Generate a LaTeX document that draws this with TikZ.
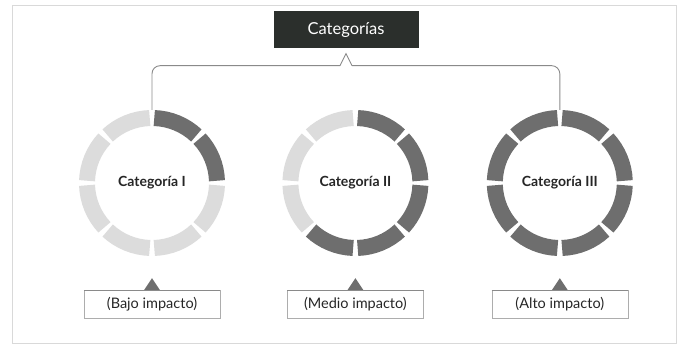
\documentclass[tikz,border=0pt]{standalone}
\usepackage{fontspec}
\setmainfont{Lato}
\usetikzlibrary{positioning,calc}

\definecolor{segdark}{HTML}{6E6E6E}
\definecolor{seglight}{HTML}{DCDCDC}
\definecolor{boxdark}{HTML}{2B2F2C}
\definecolor{linegray}{HTML}{8A8A8A}

\begin{document}
\begin{tikzpicture}[x=1pt,y=1pt,node distance=57pt,
    title node/.style={fill=boxdark, text=white, minimum width=145pt, minimum height=37pt, font=\fontsize{16.5}{19}\selectfont},
    cat node/.style={circle, minimum size=146pt, inner sep=0pt, text=black!85, font=\bfseries\fontsize{14}{16}\selectfont},
    imp node/.style={draw=linegray!70, minimum width=136pt, minimum height=28pt, inner sep=2pt, text=black!85, font=\fontsize{14.5}{17}\selectfont},
    segment/.style={line width=16pt},
    bracket/.style={draw=linegray, line width=0.9pt}]

    \useasboundingbox (0,0) rectangle (680,351);
    \draw[black!15] (12,8) rectangle (676,346);

    \node[title node] (title) at (346,321) {Categorías};

    \node[cat node] (c1) at (152,168) {Categoría I};
    \node[cat node] (c2) [right=57pt of c1] {Categoría II};
    \node[cat node] (c3) [right=58pt of c2] {Categoría III};

    \node[imp node] (lab1) [below=34pt of c1] {(Bajo impacto)};
    \node[imp node] (lab2) [below=34pt of c2] {(Medio impacto)};
    \node[imp node] (lab3) [below=34pt of c3] {(Alto impacto)};

    % ring segments, dark ones first
    \foreach \ring/\dark in {c1/2, c2/5, c3/8}
        \foreach \k in {1,...,8} {
            \ifnum\k>\dark \def\segcol{seglight}\else\def\segcol{segdark}\fi
            \draw[segment, \segcol] ($(\ring)+({133-45*\k}:65pt)$)
                arc[start angle={133-45*\k}, end angle={92-45*\k}, radius=65pt];
        }

    % bracket under the title
    \coordinate (fork) at ($(title.south)+(0,-17)$);
    \coordinate (spike) at ($(fork)+(0,12)$);
    \draw[bracket, rounded corners=8pt] (c1.north) |- ($(fork)+(-6,0)$);
    \draw[bracket] ($(fork)+(-6,0)$) -- (spike) -- ($(fork)+(6,0)$);
    \draw[bracket, rounded corners=8pt] ($(fork)+(6,0)$) -| (c3.north);

    % pointers on the impact labels
    \foreach \lab in {lab1, lab2, lab3} {
        \fill[segdark] ($(\lab.north)+(-8,0)$) -- ($(\lab.north)+(0,12)$) -- ($(\lab.north)+(8,0)$) -- cycle;
        \draw[linegray, line width=1.2pt] (\lab.north west) -- (\lab.north east);
    }
\end{tikzpicture}
\end{document}
